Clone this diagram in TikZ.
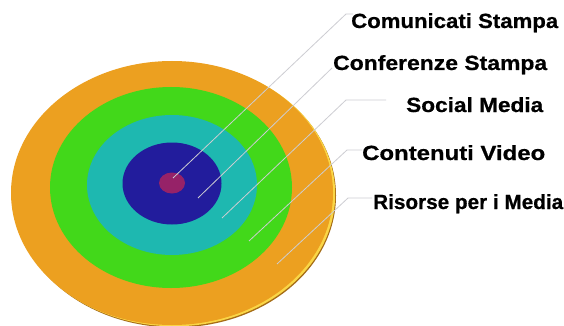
\documentclass[tikz,border=0pt]{standalone}
\usepackage{fontspec}
\setmainfont{Liberation Sans}[BoldFeatures={FakeBold=0.6}]
\definecolor{orng}{RGB}{236,160,32}
\definecolor{orngdark}{RGB}{165,108,22}
\definecolor{ornglight}{RGB}{250,214,70}
\definecolor{grn}{RGB}{66,216,26}
\definecolor{tealring}{RGB}{30,184,176}
\definecolor{navyring}{RGB}{34,28,156}
\definecolor{plum}{RGB}{150,34,104}
\definecolor{lead}{RGB}{205,205,210}
\begin{document}
\begin{tikzpicture}[x=1pt,y=-1pt,
  tag/.style={anchor=base west, inner sep=0pt,
    font=\fontsize{20.5}{22}\selectfont\bfseries, text=black},
  leadline/.style={draw=lead, line width=0.8pt}]
\useasboundingbox (0,0) rectangle (564,326);
\fill[white] (0,0) rectangle (564,326);

% disc: thickness and highlight of the rim, then the rings
\fill[orngdark] (175,195.5) ellipse [x radius=161, y radius=132];
\fill[ornglight] (174.2,194.3) ellipse [x radius=161, y radius=132];
\fill[orng] (172,193) ellipse [x radius=161, y radius=132];
\fill[grn] (171,187.5) ellipse [x radius=121, y radius=100.5];
\fill[tealring] (172,185) ellipse [x radius=85, y radius=70];
\fill[navyring] (172,183.5) ellipse [x radius=49.5, y radius=41];
\fill[plum] (172,183) ellipse [x radius=13, y radius=10.5];

% labels
\node[tag] (t1) at (351,28)  {\resizebox{207pt}{\height}{Comunicati Stampa}};
\node[tag] (t2) at (333,70)  {\resizebox{214pt}{\height}{Conferenze Stampa}};
\node[tag] (t3) at (406,112) {\resizebox{137pt}{\height}{Social Media}};
\node[tag] (t4) at (362,160) {\resizebox{183pt}{\height}{Contenuti Video}};
\node[tag] (t5) at (373,209) {\resizebox{190pt}{\height}{Risorse per i Media}};

% leader lines: start inside a ring, bend, run to the label
\coordinate (s1) at (173,178);
\coordinate (b1) at (346,14);
\coordinate (e1) at (353,14);
\coordinate (s2) at (198,198);
\coordinate (b2) at (332,68);
\coordinate (s3) at (222,218);
\coordinate (b3) at (346,100);
\coordinate (e3) at (386,100);
\coordinate (s4) at (249,241);
\coordinate (b4) at (347,150);
\coordinate (e4) at (362,150);
\coordinate (s5) at (277,264);
\coordinate (b5) at (348,198);
\coordinate (e5) at (372,198);

\draw[leadline] (s1) -- (b1) -- (e1);
\draw[leadline] (s2) -- (b2);
\draw[leadline] (s3) -- (b3) -- (e3);
\draw[leadline] (s4) -- (b4) -- (e4);
\draw[leadline] (s5) -- (b5) -- (e5);
\end{tikzpicture}
\end{document}
